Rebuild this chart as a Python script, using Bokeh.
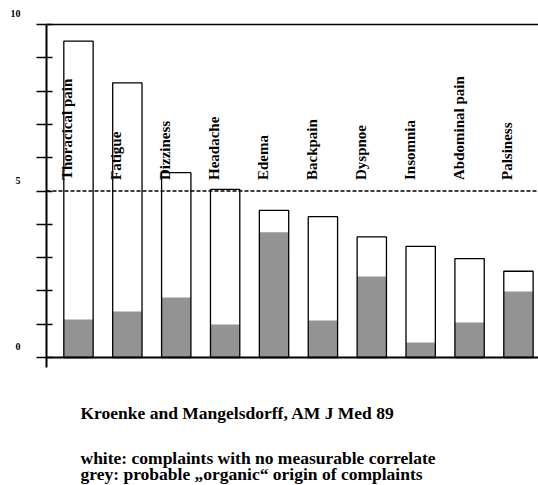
import math
from bokeh.plotting import figure
from bokeh.models import Range1d, FixedTicker, LinearAxis, ColumnDataSource
from bokeh.core.properties import value
from bokeh.embed import file_html
from bokeh.resources import INLINE

# ---- data ----
complaints = ["Thoracical pain", "Fatigue", "Dizziness", "Headache", "Edema",
              "Backpain", "Dyspnoe", "Insomnia", "Abdominal pain", "Palsiness"]
total_incidence = [9.5, 8.25, 5.55, 5.05, 4.42, 4.23, 3.62, 3.34, 2.97, 2.59]
organic_incidence = [1.14, 1.38, 1.80, 0.99, 3.76, 1.11, 2.43, 0.45, 1.05, 1.98]
threshold = 5
y_minor_marks = list(range(0, 11))
y_tick_values = [0, 5, 10]
y_tick_labels = ["0", "5", "10"]
source_note = "Kroenke and Mangelsdorff, AM J Med 89"
legend_lines = ["white:  complaints with no measurable correlate",
                "grey: probable \u201eorganic\u201c origin of complaints"]

FONT = "Liberation Serif"
xs = list(range(len(complaints)))

src = ColumnDataSource(dict(x=xs, total=total_incidence,
                            organic=organic_incidence, name=complaints))

W, H = 538, 484
AXIS_X = -0.654          # where the value axis stands (data units)
Y_TOP = 10

p = figure(width=W, height=H,
           x_range=Range1d(-1.595, 9.41), y_range=Range1d(-3.814, 10.721),
           x_axis_location=None, y_axis_location=None,
           output_backend="svg", toolbar_location=None,
           min_border_left=0, min_border_right=0, min_border_top=0,
           min_border_bottom=0)
p.outline_line_color = None
p.grid.visible = False
p.background_fill_color = "white"
p.border_fill_color = "white"

yax = LinearAxis(fixed_location=AXIS_X, bounds=(-0.3, Y_TOP),
                 ticker=FixedTicker(ticks=y_minor_marks, minor_ticks=[]))
yax.major_tick_in = 6
yax.major_tick_out = 10
yax.major_tick_line_width = 1.5
yax.major_tick_line_color = "black"
yax.axis_line_width = 2
yax.axis_line_color = "black"
yax.minor_tick_line_color = None
yax.major_label_text_color = None
p.add_layout(yax, "left")

# bars
p.vbar(x="x", top="total", width=0.6, source=src, fill_color="white", line_color=None)
p.vbar(x="x", top="organic", width=0.6, source=src, fill_color="#939393", line_color=None)
p.vbar(x="x", top="total", width=0.6, source=src, fill_color=None,
       line_color="black", line_width=1.3)

# horizontal lines starting at the value axis
p.ray(x=AXIS_X, y=0, length=0, angle=0, line_color="black", line_width=2)
p.ray(x=AXIS_X, y=Y_TOP, length=0, angle=0, line_color="black", line_width=1.5)
p.ray(x=AXIS_X, y=threshold, length=0, angle=0, line_color="black",
      line_width=1.5, line_dash="4 2")

# category labels (rotated, inside the plot)
p.text(x="x", y=threshold, text="name", source=src, angle=math.pi / 2,
       text_align="left", text_baseline="middle", x_offset=-11, y_offset=-11,
       text_font=value(FONT), text_font_style="bold", text_font_size="15px",
       text_color="black")

# y tick labels, drawn above their ticks as in the reference
p.text(x=AXIS_X, y=y_tick_values, text=y_tick_labels, x_offset=-26, y_offset=-11,
       text_align="right", text_baseline="middle", text_font=value(FONT),
       text_font_style="bold", text_font_size="10px", text_color="black")

# notes below the chart (pixel offsets below the zero line)
note_style = dict(x=AXIS_X, y=0, x_offset=34, text_align="left",
                  text_baseline="alphabetic", text_font=value(FONT),
                  text_font_style="bold", text_font_size="17.5px", text_color="black")
p.text(text=[source_note], y_offset=55.5, **note_style)
for i, line in enumerate(legend_lines):
    p.text(text=[line], y_offset=100.3 + 16 * i, **note_style)

open("out.html", "w").write(file_html(p, INLINE))
